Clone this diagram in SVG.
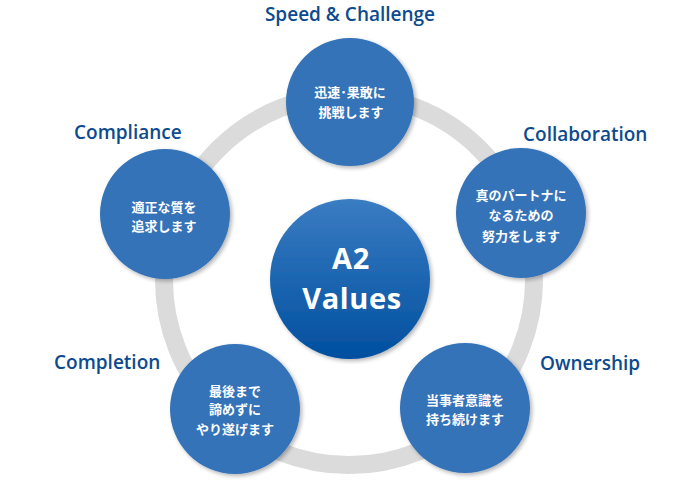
<svg xmlns="http://www.w3.org/2000/svg" width="700" height="490" viewBox="0 0 700 490">
<defs>
<linearGradient id="cg" x1="0" y1="0" x2="0" y2="1">
<stop offset="0" stop-color="#3a7cc2"/>
<stop offset="1" stop-color="#004f9f"/>
</linearGradient>
<filter id="sh" x="-20%" y="-20%" width="140%" height="140%">
<feGaussianBlur in="SourceAlpha" stdDeviation="2"/>
<feOffset dx="2" dy="2" result="b"/>
<feComponentTransfer><feFuncA type="linear" slope="0.3"/></feComponentTransfer>
<feMerge><feMergeNode/><feMergeNode in="SourceGraphic"/></feMerge>
</filter>
</defs>
<style>
.ring{fill:none;stroke:#dcdbdc;stroke-width:18}
.node{fill:#3473b9;filter:url(#sh)}
.lbl{font-family:"Open Sans","Noto Sans",sans-serif;font-weight:600;font-size:19px;fill:#0d4a8e}
.jp{font-family:"Noto Sans CJK JP","Noto Sans",sans-serif;font-weight:700;font-size:13px;fill:#ffffff;text-anchor:middle}
.ctr{font-family:"Open Sans","Noto Sans",sans-serif;font-weight:700;font-size:29px;letter-spacing:0.6px;fill:#ffffff;text-anchor:middle}
</style>
<g id="connectors">
<circle class="ring" cx="349" cy="280" r="185"/>
</g>
<g id="center">
<circle cx="350" cy="279" r="80" fill="url(#cg)" filter="url(#sh)"/>
<text class="ctr" x="351" y="269">A2</text>
<text class="ctr" x="352" y="309">Values</text>
</g>
<g id="speed">
<circle class="node" cx="350" cy="102" r="64"/>
<text class="jp" x="350" y="97">迅速･果敢に</text>
<text class="jp" x="351" y="117">挑戦します</text>
<text class="lbl" x="350" y="21" text-anchor="middle">Speed &amp; Challenge</text>
</g>
<g id="collaboration">
<circle class="node" cx="521" cy="213" r="65"/>
<text class="jp" x="521" y="200">真のパートナに</text>
<text class="jp" x="521" y="220">なるための</text>
<text class="jp" x="521" y="241">努力をします</text>
<text class="lbl" x="523" y="141">Collaboration</text>
</g>
<g id="ownership">
<circle class="node" cx="465" cy="408" r="65"/>
<text class="jp" x="465" y="405">当事者意識を</text>
<text class="jp" x="465" y="424">持ち続けます</text>
<text class="lbl" x="540" y="370">Ownership</text>
</g>
<g id="completion">
<circle class="node" cx="235" cy="409" r="65"/>
<text class="jp" x="235" y="396">最後まで</text>
<text class="jp" x="235" y="414">諦めずに</text>
<text class="jp" x="235" y="434">やり遂げます</text>
<text class="lbl" x="54" y="369">Completion</text>
</g>
<g id="compliance">
<circle class="node" cx="165" cy="214" r="65"/>
<text class="jp" x="164" y="212">適正な質を</text>
<text class="jp" x="164" y="231">追求します</text>
<text class="lbl" x="74" y="139">Compliance</text>
</g>
</svg>
